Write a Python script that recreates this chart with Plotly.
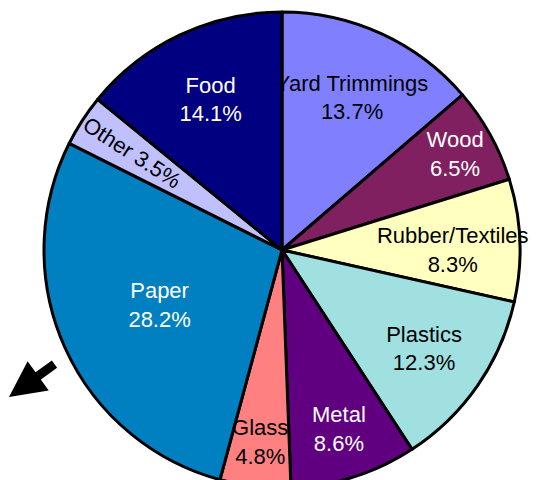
import plotly.graph_objects as go

labels = ["Yard Trimmings", "Wood", "Rubber/Textiles", "Plastics", "Metal",
          "Glass", "Paper", "Other", "Food"]
values = [13.7, 6.5, 8.3, 12.3, 8.6, 4.8, 28.2, 3.5, 14.1]
colors = ["#8080FF", "#802060", "#FFFFC0", "#A0E0E0", "#600080",
          "#FF8080", "#0080C0", "#C0C0FF", "#000080"]
text_colors = ["#000000", "#FFFFFF", "#000000", "#000000", "#FFFFFF",
               "#000000", "#FFFFFF", "#000000", "#FFFFFF"]
radial_labels = ["Other"]
inset_labels = ["Glass"]

FONT = "Liberation Sans, Arial, sans-serif"
FSIZE = 22

main_texts = ["" if (l in radial_labels or l in inset_labels) else f"{l}<br>{v:.1f}%"
              for l, v in zip(labels, values)]
radial_texts = [f"{l} {v:.1f}%" if l in radial_labels else ""
                for l, v in zip(labels, values)]
inset_texts = [f"{l}<br>{v:.1f}%" if l in inset_labels else ""
               for l, v in zip(labels, values)]

# plot area geometry (pixels)
ML, MT = 0, 4
W, H = 538, 476
CX, CY = 274, H / 2
R = 238


def concentric_domain(r):
    return dict(x=[(CX - r) / W, (CX + r) / W], y=[(CY - r) / H, (CY + r) / H])


clear = ["rgba(0,0,0,0)"] * len(labels)

fig = go.Figure()
fig.add_trace(go.Pie(
    labels=labels, values=values, text=main_texts, texttemplate="%{text}",
    textposition="inside", insidetextorientation="horizontal",
    sort=False, direction="clockwise", rotation=0,
    domain=concentric_domain(R),
    marker=dict(colors=colors, line=dict(color="#000000", width=3)),
    insidetextfont=dict(family=FONT, size=FSIZE, color=text_colors),
    hoverinfo="label+percent", showlegend=False,
))
fig.add_trace(go.Pie(
    labels=labels, values=values, text=radial_texts, texttemplate="%{text}",
    textposition="inside", insidetextorientation="radial",
    sort=False, direction="clockwise", rotation=0,
    domain=concentric_domain(R),
    marker=dict(colors=clear, line=dict(color="rgba(0,0,0,0)", width=0)),
    insidetextfont=dict(family=FONT, size=FSIZE, color=text_colors),
    hoverinfo="skip", showlegend=False,
))
fig.add_trace(go.Pie(
    labels=labels, values=values, text=inset_texts, texttemplate="%{text}",
    textposition="inside", insidetextorientation="horizontal",
    sort=False, direction="clockwise", rotation=0,
    domain=concentric_domain(222),
    marker=dict(colors=clear, line=dict(color="rgba(0,0,0,0)", width=0)),
    insidetextfont=dict(family=FONT, size=FSIZE, color=text_colors),
    hoverinfo="skip", showlegend=False,
))

# pointer arrow at lower left
tip_px = (0, 389)
fig.add_annotation(
    x=(tip_px[0] - ML) / W, y=1 - (tip_px[1] - MT) / H,
    xref="paper", yref="paper",
    ax=48, ay=-34, axref="pixel", ayref="pixel",
    showarrow=True, arrowhead=2, arrowsize=0.8, arrowwidth=9,
    arrowcolor="#000000", text="",
)

fig.update_layout(
    width=538, height=480,
    margin=dict(l=ML, r=0, t=MT, b=0),
    paper_bgcolor="#FFFFFF",
    plot_bgcolor="#FFFFFF",
    uniformtext=dict(minsize=FSIZE, mode="show"),
)

fig.write_html("out.html")
